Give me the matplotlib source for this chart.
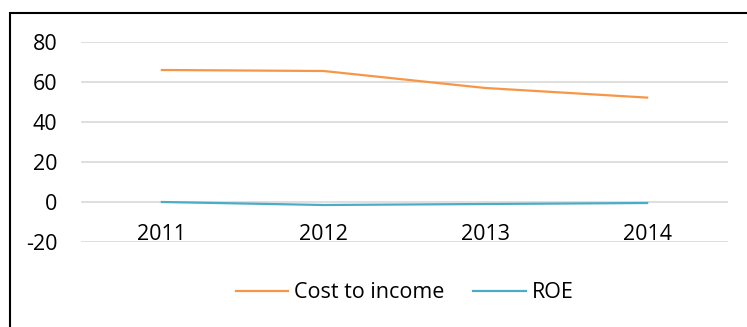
import matplotlib
matplotlib.use('Agg')
import matplotlib.pyplot as plt
from matplotlib.patches import Rectangle

years = ['2011', '2012', '2013', '2014']
cost_to_income = [66.0, 65.5, 57.0, 52.2]
roe = [0.0, -1.5, -1.0, -0.5]
y_ticks = [-20, 0, 20, 40, 60, 80]

plt.rcParams['font.family'] = ['Open Sans', 'DejaVu Sans']
plt.rcParams['axes.unicode_minus'] = False

fig = plt.figure(figsize=(7.47, 3.27), dpi=100)
# borda do grafico
fig.patches.append(Rectangle((10 / 747, -0.05), 1.0, 1 - 13 / 327 + 0.05,
                             transform=fig.transFigure, fill=False,
                             edgecolor='black', linewidth=1.5))

ax = fig.add_axes([81 / 747, 1 - 242 / 327, (728 - 81) / 747, 200 / 327])
x = list(range(len(years)))
ax.plot(x, cost_to_income, color='#F79646', linewidth=1.6, label='Cost to income')
ax.plot(x, roe, color='#4BACC6', linewidth=1.6, label='ROE')

ax.set_xlim(-0.5, len(years) - 0.5)
ax.set_ylim(-20, 80)
ax.set_yticks(y_ticks)
ax.yaxis.grid(True, color='#D9D9D9', linewidth=1.2)
ax.set_axisbelow(True)
for s in ['top', 'right', 'left']:
    ax.spines[s].set_visible(False)
ax.spines['bottom'].set_position(('data', 0))
ax.spines['bottom'].set_visible(False)
ax.set_xticks(x)
ax.set_xticklabels(years)
ax.tick_params(axis='x', length=0, pad=16, labelsize=15.5)
ax.tick_params(axis='y', length=0, pad=17, labelsize=15.5)

ax.legend(loc='center', bbox_to_anchor=(0.5, -0.255), ncol=2, frameon=False,
          fontsize=15.5, handlelength=2.45, handletextpad=0.25, columnspacing=1.35)

fig.savefig('out.png', dpi=100)
